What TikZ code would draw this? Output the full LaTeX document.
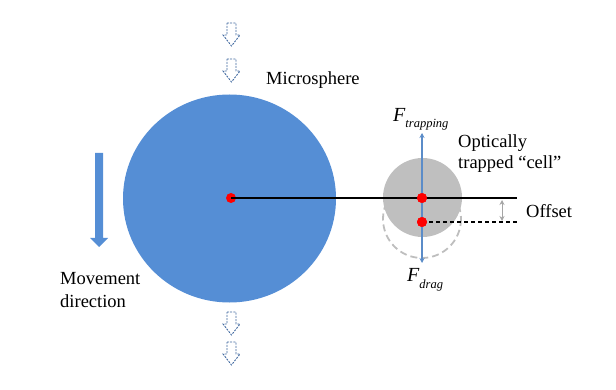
\documentclass[tikz,border=0pt]{standalone}
\usepackage{fontspec}
\setmainfont{Liberation Serif}
\usetikzlibrary{arrows.meta}
\definecolor{sphereblue}{RGB}{85,142,213}
\definecolor{arrowblue}{RGB}{91,140,200}
\definecolor{hollowblue}{RGB}{65,105,160}
\definecolor{cellgray}{RGB}{191,191,191}
\definecolor{ghostgray}{RGB}{190,190,190}
\definecolor{offgray}{RGB}{165,165,165}
\tikzset{
  x=1pt, y=-1pt,
  lbl/.style={font=\rmfamily\fontsize{18.5}{21}\selectfont, inner sep=0pt, anchor=base west},
  forcelbl/.style={font=\rmfamily\itshape, inner sep=0pt, anchor=base west},
  reddot/.style={circle, fill=red, minimum size=10pt, inner sep=0pt},
  hollow/.style={draw=hollowblue, line width=0.9pt, dash pattern=on 2pt off 1.2pt, line join=miter},
  forcearrow/.style={draw=arrowblue, line width=1.4pt, {Stealth[length=5pt,width=5pt]}-{Stealth[length=5pt,width=5pt]}},
}
\begin{document}
\begin{tikzpicture}
\useasboundingbox (0,0) rectangle (616,390);
% hollow dashed arrows
\foreach \t in {23,59,312,342}{
  \draw[hollow] (227,\t) -- (236,\t) -- (236,\t+12) -- (240,\t+12) -- (231.5,\t+23) -- (223,\t+12) -- (227,\t+12) -- cycle;
}
% microsphere
\fill[sphereblue] (229.5,198.5) ellipse [x radius=106.5, y radius=104];
% movement arrow
\fill[sphereblue] (95,153) -- (103,153) -- (103,238) -- (108,238) -- (99,247) -- (90,238) -- (95,238) -- cycle;
% ghost (displaced) cell
\draw[ghostgray, line width=1.8pt, dash pattern=on 7pt off 4pt] (422,219) circle [radius=39];
% trapped cell
\fill[cellgray] (422.5,197.5) circle [radius=39.5];
% dots
\node[reddot] (c1) at (231,198) {};
\node[reddot] (c2) at (422,198) {};
\node[reddot] (c3) at (422,222) {};
\coordinate (e1) at (517,198);
\coordinate (e2) at (517,222);
\draw[black, line width=1.3pt] (c1.center) -- (e1);
\draw[black, line width=1.2pt, dash pattern=on 4pt off 3pt] (c3.center) -- (e2);
% offset arrow
\coordinate (o1) at (502,200);
\coordinate (o2) at (502,221);
\draw[offgray, line width=1pt, {Stealth[length=5pt,width=5pt]}-{Stealth[length=5pt,width=5pt]}] (o1) -- (o2);
% force arrow
\coordinate (ft) at (422,133);
\coordinate (fd) at (422,263);
\draw[forcearrow] (ft) -- (fd);
\node[reddot] (c2b) at (422,198) {};
\node[reddot] (c3b) at (422,222) {};
% labels
\node[lbl] (ms) at (266,85) {Microsphere};
\node[lbl] (oc1) at (458,148) {Optically};
\node[lbl] (oc2) at (458,169) {trapped “cell”};
\node[lbl] (off) at (526,218) {Offset};
\node[lbl] (mv1) at (60,284) {Movement};
\node[lbl] (mv2) at (60,307) {direction};
\node[forcelbl] (ftl) at (393,122) {\fontsize{20}{20}\selectfont F\raisebox{-6pt}{\fontsize{12.5}{12.5}\selectfont trapping}};
\node[forcelbl] (fdl) at (407,282) {\fontsize{20}{20}\selectfont F\raisebox{-6pt}{\fontsize{12.5}{12.5}\selectfont drag}};
\end{tikzpicture}
\end{document}
